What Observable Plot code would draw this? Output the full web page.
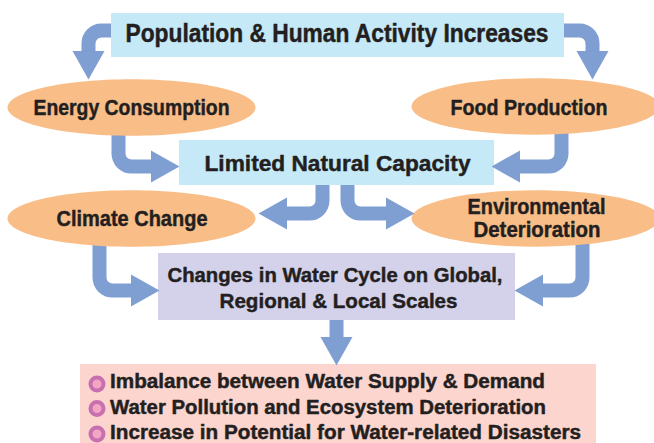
<!DOCTYPE html>
<html><head><meta charset="utf-8">
<script src="https://cdn.jsdelivr.net/npm/d3@7"></script>
<script src="https://cdn.jsdelivr.net/npm/@observablehq/plot@0.6"></script>
<style>html,body{margin:0;padding:0;background:#fff;overflow:hidden}</style>
</head><body><div id="chart"></div>
<script>
const W = 654, H = 443;
const FONT = "'Liberation Sans',Arial,sans-serif";

// labels
const boxLabels = ["Population & Human Activity Increases", "Limited Natural Capacity", "Changes in Water Cycle on Global,\nRegional & Local Scales", ""];
const ellipseLabels = ["Energy Consumption", "Food Production", "Climate Change", "Environmental\nDeterioration"];
const impacts = ["Imbalance between Water Supply & Demand", "Water Pollution and Ecosystem Deterioration", "Increase in Potential for Water-related Disasters"];

// layout (diagram units = pixels)
const boxX1 = [111, 179, 158, 80];
const boxX2 = [564, 494, 515, 596];
const boxY1 = [13, 140, 253, 364];
const boxY2 = [57, 185, 320, 450];
const boxFill = ["#c6e9f8", "#c6e9f8", "#d4d2eb", "#fbd5ce"];
const boxTextX = [[336.5], [337], [334.5, 338]];
const boxTextY = [[33.5], [163], [274.5, 300.5]];
const boxTextSize = [25, 22, 20.5];
const boxTextWidth = [[423], [266], [335, 238]];

const ellX = [131, 535, 131, 535];
const ellY = [107, 106, 218, 218];
const ellTextX = [[131], [528.5], [131.5], [536, 536.5]];
const ellTextY = [[107.5], [107], [218], [206.5, 229.5]];
const ellTextWidth = [[196], [157], [151], [138, 127]];

const impactY = [381, 407.5, 432.5];
const bulletY = [383.5, 408, 433.5];
const impactWidth = [435, 436, 471];

// arrows: shaft polyline + head (base point and direction)
const arrowPaths = [
  [[116, 30], [88, 30], [88, 51]],
  [[560, 30], [592, 30], [592, 51]],
  [[118, 125], [118, 166], [151, 166]],
  [[561, 125], [561, 166], [519, 166]],
  [[322, 180], [322, 213], [286, 213]],
  [[347, 180], [347, 213], [386, 213]],
  [[99, 240], [99, 290], [131, 290]],
  [[582, 240], [582, 290], [542, 290]],
  [[336, 316], [336, 337]]
];
const headDir = [180, 180, 90, -90, -90, 90, 90, -90, 180];

const shafts = arrowPaths.flatMap((pts, id) => pts.map(([x, y]) => ({id, x, y})));
const heads = arrowPaths.map((pts, i) => {
  const [x, y] = pts[pts.length - 1];
  return {x, y, rotate: headDir[i]};
});

// custom curve: polyline with rounded corners
function roundedCorners(radius) {
  return function(context) {
    let pts = [];
    return {
      areaStart() {}, areaEnd() {},
      lineStart() { pts = []; },
      point(x, y) { pts.push([+x, +y]); },
      lineEnd() {
        if (!pts.length) return;
        context.moveTo(pts[0][0], pts[0][1]);
        for (let i = 1; i < pts.length - 1; ++i)
          context.arcTo(pts[i][0], pts[i][1], pts[i + 1][0], pts[i + 1][1], radius);
        const l = pts[pts.length - 1];
        context.lineTo(l[0], l[1]);
      }
    };
  };
}

// ellipse symbol (rx = r, ry = 0.228 r)
const ellipseSymbol = {
  draw(ctx, size) {
    const rx = Math.sqrt(size / Math.PI), ry = rx * 0.228, k = 0.5523;
    ctx.moveTo(rx, 0);
    ctx.bezierCurveTo(rx, ry * k, rx * k, ry, 0, ry);
    ctx.bezierCurveTo(-rx * k, ry, -rx, ry * k, -rx, 0);
    ctx.bezierCurveTo(-rx, -ry * k, -rx * k, -ry, 0, -ry);
    ctx.bezierCurveTo(rx * k, -ry, rx, -ry * k, rx, 0);
    ctx.closePath();
  }
};
// arrow head symbol: base centred on the point, tip pointing up
const headSymbol = {
  draw(ctx, size) {
    const r = Math.sqrt(size / Math.PI);
    const half = r, len = r * 1.75;
    ctx.moveTo(0, -len);
    ctx.lineTo(half, 0.5);
    ctx.lineTo(-half, 0.5);
    ctx.closePath();
  }
};

const boxes = boxLabels.map((label, i) => ({x1: boxX1[i], x2: boxX2[i], y1: boxY1[i], y2: boxY2[i], fill: boxFill[i]}));
const textLines = [];
boxLabels.slice(0, 3).forEach((label, i) => label.split("\n").forEach((t, j) =>
  textLines.push({label: t, x: boxTextX[i][j], y: boxTextY[i][j], size: boxTextSize[i], width: boxTextWidth[i][j]})));
ellipseLabels.forEach((label, i) => label.split("\n").forEach((t, j) =>
  textLines.push({label: t, x: ellTextX[i][j], y: ellTextY[i][j], size: 22.2, width: ellTextWidth[i][j]})));
const ellipses = ellipseLabels.map((label, i) => ({label, x: ellX[i], y: ellY[i]}));
const impactRows = impacts.map((label, i) => ({label, y: impactY[i], by: bulletY[i], width: impactWidth[i]}));

const widthOf = new Map([...textLines, ...impactRows].map(d => [d.label, d.width]));

const ARROW = "#7f9fd3", INK = "#231f20";
const textStyle = {fontWeight: "bold", fill: INK, stroke: INK, strokeWidth: 0.45, lineAnchor: "middle"};

const chart = Plot.plot({
  width: W, height: H, margin: 0,
  x: {domain: [0, W], range: [0, W], axis: null},
  y: {domain: [0, H], range: [0, H], axis: null},
  style: {background: "#fff", fontFamily: FONT},
  marks: [
    Plot.line(shafts, {x: "x", y: "y", z: "id", stroke: ARROW, strokeWidth: 14, strokeLinecap: "butt", strokeLinejoin: "round", curve: roundedCorners(13)}),
    Plot.rect(boxes, {x1: "x1", x2: "x2", y1: "y1", y2: "y2", fill: "fill"}),
    Plot.dot(ellipses, {x: "x", y: "y", r: 124, symbol: ellipseSymbol, fill: "#f9bd88", stroke: "none"}),
    Plot.dot(heads, {x: "x", y: "y", r: 16, rotate: "rotate", symbol: headSymbol, fill: ARROW, stroke: "none"}),
    ...[25, 22, 22.2, 20.5].map(s => Plot.text(textLines.filter(d => d.size === s), {x: "x", y: "y", text: "label", fontSize: s, ...textStyle})),
    Plot.dot(impactRows, {x: 96.5, y: "by", r: 6.5, fill: "#f2a6c4", stroke: "#c86fb0", strokeWidth: 4}),
    Plot.text(impactRows, {x: 109.5, y: "y", text: "label", textAnchor: "start", fontSize: 19.6, ...textStyle})
  ]
});
// condense the glyphs to the widths measured on the reference
d3.select(chart).selectAll("text").each(function() {
  const w = widthOf.get(this.textContent);
  if (w) { this.setAttribute("textLength", w); this.setAttribute("lengthAdjust", "spacingAndGlyphs"); }
});
document.getElementById("chart").appendChild(chart);
</script>
</body></html>
